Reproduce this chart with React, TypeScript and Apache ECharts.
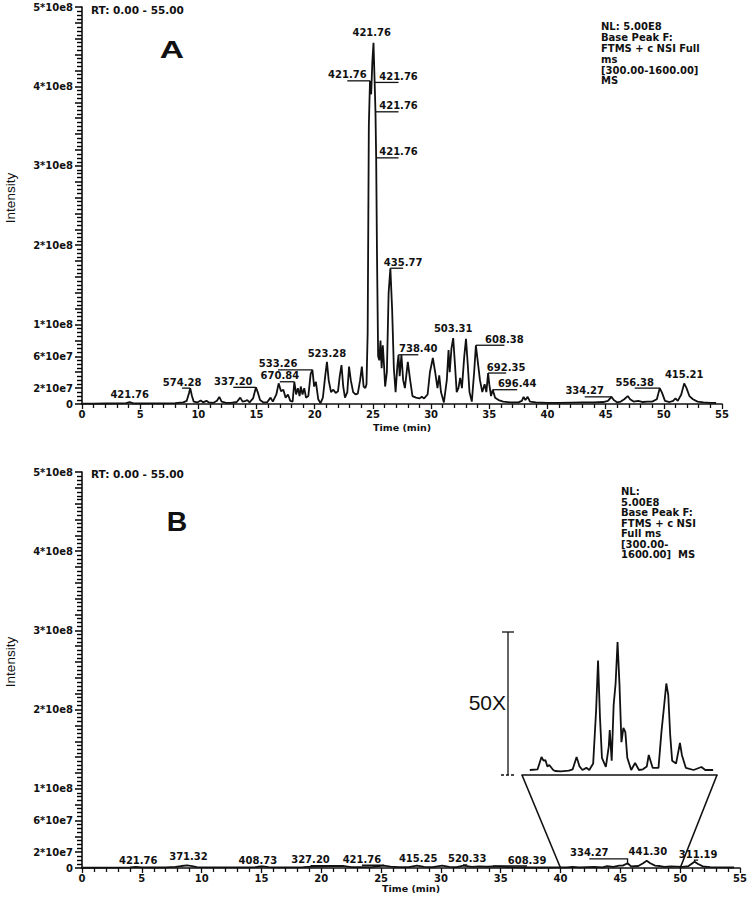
import React, { useEffect, useRef } from "react";
import * as echarts from "echarts";

// ---------- axis ticks ----------
const timeMin = 0;
const timeMax = 55;
const timeInterval = 5;
const intensityMax = 5e8;
const yTickValues = [0, 2e7, 6e7, 1e8, 2e8, 3e8, 4e8, 5e8];
const yTickLabels = ["0", "2*10e7", "6*10e7", "1*10e8", "2*10e8", "3*10e8", "4*10e8", "5*10e8"];

// ---------- chromatogram A: [time (min), intensity (x1e6)] ----------
const chromA: [number, number][] = [
  [0, 0.5], [1, 0.5], [2, 0.6], [3, 0.7], [3.8, 1.0], [4.1, 2.5], [4.4, 0.8], [5, 0.6], [6, 0.8], [7, 0.9],
  [8, 1.2], [8.7, 2], [9.0, 4], [9.2, 14], [9.3, 20], [9.45, 10], [9.6, 3], [9.9, 2], [10.2, 4.5], [10.4, 2],
  [10.7, 4], [10.9, 2], [11.3, 1.5], [11.6, 4], [11.8, 9], [12.0, 3], [12.4, 1.5], [12.8, 1.5], [13.3, 2.5],
  [13.6, 8], [13.8, 3], [14.0, 3.5], [14.2, 5], [14.4, 2], [14.7, 7], [14.95, 21], [15.1, 15], [15.3, 5],
  [15.6, 2], [15.9, 2], [16.2, 8], [16.4, 3], [16.7, 12], [16.9, 26], [17.1, 16], [17.3, 18], [17.5, 8],
  [17.7, 12], [17.9, 4], [18.1, 3], [18.25, 28], [18.4, 12], [18.55, 20], [18.7, 10], [18.8, 22], [18.95, 12],
  [19.1, 20], [19.25, 8], [19.45, 10], [19.65, 38], [19.8, 43], [19.95, 22], [20.1, 28], [20.3, 6], [20.5, 1],
  [20.7, 8], [20.9, 35], [21.05, 53], [21.2, 30], [21.4, 15], [21.6, 18], [21.8, 14], [22.0, 16], [22.15, 35],
  [22.3, 49], [22.45, 22], [22.6, 8], [22.8, 15], [22.95, 47], [23.1, 30], [23.3, 15], [23.5, 12], [23.7, 13],
  [23.9, 30], [24.05, 47], [24.2, 22], [24.35, 20], [24.45, 25], [24.55, 90], [24.65, 350], [24.75, 407],
  [24.85, 390], [24.95, 430], [25.05, 455], [25.15, 405], [25.22, 368], [25.28, 310], [25.35, 190], [25.45, 60],
  [25.55, 55], [25.65, 80], [25.75, 45], [25.85, 74], [25.95, 50], [26.05, 22], [26.2, 40], [26.35, 140],
  [26.5, 171], [26.65, 120], [26.8, 45], [26.95, 15], [27.1, 48], [27.2, 62], [27.3, 35], [27.45, 62],
  [27.6, 30], [27.75, 20], [28.0, 53], [28.2, 30], [28.4, 10], [28.7, 8], [29.0, 7], [29.2, 9], [29.4, 7],
  [29.7, 12], [29.9, 40], [30.15, 58], [30.35, 40], [30.55, 20], [30.7, 36], [30.85, 15], [31.1, 2],
  [31.35, 30], [31.5, 68], [31.6, 40], [31.75, 70], [31.9, 83], [32.05, 50], [32.2, 15], [32.35, 20],
  [32.5, 33], [32.65, 20], [32.85, 60], [33.0, 82], [33.15, 50], [33.3, 15], [33.5, 3], [33.7, 40],
  [33.85, 74], [34.0, 55], [34.2, 30], [34.4, 15], [34.6, 25], [34.75, 15], [34.9, 39], [35.0, 25],
  [35.15, 10], [35.3, 18], [35.5, 8], [35.8, 5], [36.2, 3], [36.8, 2], [37.5, 2], [37.8, 4], [37.95, 9],
  [38.1, 5], [38.3, 9], [38.5, 3], [39, 2], [40, 1.5], [41, 1.5], [42, 1.8], [43, 2], [44, 2], [44.8, 2.5],
  [45.2, 4], [45.5, 9], [45.7, 5], [46.0, 2], [46.3, 3], [46.6, 6], [46.9, 10], [47.1, 6], [47.4, 3],
  [47.8, 4], [48.2, 2.5], [48.6, 3], [49.0, 3], [49.4, 6], [49.65, 20], [49.85, 14], [50.1, 4], [50.5, 2.5],
  [50.8, 4], [51.0, 7], [51.2, 4], [51.5, 12], [51.75, 26], [51.95, 20], [52.2, 10], [52.5, 6], [52.9, 3],
  [53.4, 2], [54, 1.5], [54.5, 1.5],
];

// ---------- chromatogram B: [time (min), intensity (x1e6)] ----------
const chromB: [number, number][] = [
  [0, 0.3], [1, 0.3], [2, 0.4], [3, 0.5], [4, 0.8], [4.5, 1.5], [5, 0.8], [6, 0.6], [7, 0.8], [7.8, 1.5],
  [8.3, 2.5], [8.8, 3.2], [9.2, 2.5], [9.6, 1], [10.5, 0.8], [11.5, 0.8], [12.5, 0.7], [13.5, 0.9], [14.5, 1.2],
  [15.1, 2], [15.6, 1], [16.5, 0.8], [17.5, 0.9], [18.5, 1.2], [19.3, 1.8], [20.2, 2.2], [21.0, 2.5],
  [21.8, 2.8], [22.5, 1.2], [23.5, 1], [24.3, 1.4], [25.2, 3], [25.8, 1.8], [26.5, 1], [27.3, 1.2], [28.0, 3],
  [28.6, 1.3], [29.3, 1.2], [30.1, 3], [30.7, 1.3], [31.3, 1.2], [31.9, 3], [32.6, 1.4], [33.2, 2], [33.8, 1.6],
  [34.4, 2], [35.0, 1.8], [35.6, 1.2], [36.5, 0.8], [37.5, 0.6], [38.5, 0.6], [39.5, 0.7], [40.5, 0.8],
  [41.0, 1.4], [41.6, 0.8], [42.8, 1.3], [43.5, 0.8], [43.9, 2.5], [44.4, 1.5], [44.9, 3], [45.2, 3], [45.6, 6],
  [45.9, 2], [46.5, 2.5], [46.9, 6], [47.2, 9], [47.5, 6], [47.9, 3], [48.3, 2.5], [48.7, 1.5], [49.2, 2],
  [49.7, 1.8], [50.2, 1.5], [50.7, 2.5], [51.2, 8], [51.5, 5], [51.9, 2], [52.5, 1], [53.5, 0.7], [54.5, 0.6],
];

// ---------- 50X inset of B (40-50 min): [time, % of scale bar] ----------
const insetRange = [40, 50];
const insetScaleMax = 100;
const chromInset: [number, number][] = [
  [40.4, 3.5], [40.8, 4], [41.0, 12.6], [41.1, 10], [41.2, 10.5], [41.3, 6], [41.4, 7], [41.6, 3.5], [41.7, 2.8],
  [42.0, 2.5], [42.4, 3], [42.6, 4], [42.8, 12.6], [42.95, 6], [43.1, 3.5], [43.3, 5], [43.45, 3.5], [43.65, 8],
  [43.8, 45], [43.9, 80], [44.0, 40], [44.1, 12], [44.3, 5.6], [44.45, 20], [44.5, 31.5], [44.6, 10], [44.7, 49],
  [44.8, 64], [44.9, 93], [45.0, 63], [45.1, 23], [45.2, 33], [45.3, 30], [45.4, 12], [45.6, 3.5], [45.8, 8.4],
  [46.0, 3.5], [46.2, 4], [46.4, 6], [46.5, 14], [46.7, 5], [47.0, 5], [47.15, 30], [47.3, 50], [47.4, 64],
  [47.5, 56], [47.6, 28], [47.7, 10], [47.9, 8], [48.1, 22.4], [48.2, 14], [48.4, 5], [48.8, 3.5], [49.2, 5.6],
  [49.4, 3.5], [49.8, 3.5],
];

// ---------- peak labels: [m/z text, peak time, peak intensity (x1e6)] ----------
const peakLabelsA: [string, number, number][] = [
  ["421.76", 25.05, 455], ["421.76", 24.75, 407], ["421.76", 25.15, 405], ["421.76", 25.22, 368],
  ["421.76", 25.28, 310], ["435.77", 26.5, 171], ["523.28", 21.05, 53], ["533.26", 19.8, 43],
  ["670.84", 18.25, 28], ["337.20", 14.95, 21], ["574.28", 9.3, 20], ["421.76", 4.1, 2.5],
  ["738.40", 27.2, 62], ["503.31", 31.9, 83], ["608.38", 33.85, 74], ["692.35", 34.9, 39],
  ["696.44", 35.3, 18], ["334.27", 45.5, 9], ["556.38", 49.65, 20], ["415.21", 51.75, 26],
];
// label anchor: [time, intensity (x1e6)]
const labelPosA: [number, number][] = [
  [24.9, 460], [22.8, 407], [27.2, 405], [27.2, 368], [27.2, 310], [27.6, 171], [21.05, 56], [16.85, 43],
  [17.0, 28], [13.0, 21], [8.6, 20], [4.1, 5], [28.9, 62], [31.9, 87], [36.3, 74], [36.45, 39],
  [37.4, 18], [43.2, 9], [47.5, 20], [51.75, 29],
];

const peakLabelsB: [string, number, number][] = [
  ["421.76", 4.5, 1.5], ["371.32", 8.8, 3.2], ["408.73", 15.1, 2], ["327.20", 21.8, 2.8], ["421.76", 25.2, 3],
  ["415.25", 28.0, 3], ["520.33", 31.9, 3], ["608.39", 34.4, 2], ["334.27", 45.6, 6], ["441.30", 47.2, 9],
  ["311.19", 51.2, 8],
];
const labelPosB: [number, number][] = [
  [4.7, 2.5], [8.9, 7.5], [14.7, 2], [19.1, 3], [23.4, 3.5], [28.1, 4], [32.2, 4], [37.2, 2.5],
  [42.4, 11.4], [47.3, 13], [51.5, 10],
];

const FONT = "DejaVu Sans";
const INK = "#111";

function labelSeries(labels: [string, number, number][], places: [number, number][], idx: number) {
  return {
    type: "custom",
    xAxisIndex: idx,
    yAxisIndex: idx,
    clip: false,
    silent: true,
    encode: { x: [0, 2], y: [1, 3] },
    data: labels.map(([, pt, pv], i) => [pt, pv * 1e6, places[i][0], places[i][1] * 1e6]),
    renderItem: (params: any, api: any) => {
      const p = api.coord([api.value(0), api.value(1)]);
      const l = api.coord([api.value(2), api.value(3)]);
      const text = labels[params.dataIndex][0];
      const children: any[] = [];
      if (Math.abs(l[0] - p[0]) > 3) {
        children.push({
          type: "polyline",
          shape: { points: [[p[0], p[1]], [p[0], l[1]], [l[0], l[1]]] },
          style: { stroke: INK, lineWidth: 1.3, fill: null },
        });
      }
      children.push({
        type: "text",
        x: l[0],
        y: l[1] - 1,
        style: {
          text,
          fill: INK,
          fontSize: 10,
          fontWeight: "bold",
          fontFamily: FONT,
          align: "center",
          verticalAlign: "bottom",
        },
      });
      return { type: "group", children };
    },
  };
}

function timeAxis(gridIndex: number, nameGap: number) {
  return {
    type: "value",
    gridIndex,
    min: timeMin,
    max: timeMax,
    interval: timeInterval,
    name: "Time (min)",
    nameLocation: "middle",
    nameGap,
    nameTextStyle: { color: INK, fontSize: 9.5, fontWeight: "bold", fontFamily: FONT },
    axisLine: { show: true, onZero: false, lineStyle: { color: INK, width: 1.6 } },
    axisTick: { show: true, length: 5, lineStyle: { color: INK, width: 1.3 } },
    minorTick: { show: true, splitNumber: 5, length: 4, lineStyle: { color: INK, width: 1.3 } },
    axisLabel: { color: INK, fontSize: 10, fontWeight: "bold", fontFamily: FONT, margin: 5 },
    splitLine: { show: false },
    minorSplitLine: { show: false },
  };
}

function intensityAxis(gridIndex: number) {
  return {
    type: "value",
    gridIndex,
    min: 0,
    max: intensityMax,
    interval: 2e7,
    axisLine: { show: true, onZero: false, lineStyle: { color: INK, width: 1.6 } },
    axisTick: { show: true, length: 7, lineStyle: { color: "#000", width: 1.5 } },
    minorTick: { show: true, splitNumber: 4, length: 5, lineStyle: { color: "#000", width: 1.4 } },
    axisLabel: {
      color: INK,
      fontSize: 10,
      fontWeight: "bold",
      fontFamily: FONT,
      margin: 9,
      formatter: (v: number) => {
        const i = yTickValues.findIndex((t) => Math.abs(t - v) < 1);
        return i >= 0 ? yTickLabels[i] : "";
      },
    },
    splitLine: { show: false },
    minorSplitLine: { show: false },
  };
}

function traceSeries(data: [number, number][], idx: number, scale: number) {
  return {
    type: "line",
    xAxisIndex: idx,
    yAxisIndex: idx,
    data: data.map(([t, v]) => [t, v * scale]),
    symbol: "none",
    lineStyle: { color: INK, width: 1.8 },
    silent: true,
  };
}

const infoA = "NL: 5.00E8\nBase Peak F:\nFTMS + c NSI Full\nms\n[300.00-1600.00]\nMS";
const infoB = "NL:\n5.00E8\nBase Peak F:\nFTMS + c NSI\nFull ms\n[300.00-\n1600.00]  MS";

export default function App() {
  const ref = useRef<HTMLDivElement>(null);

  useEffect(() => {
    document.body.style.margin = "0";
    if (!ref.current) return;
    const chart = echarts.init(ref.current, null, { renderer: "svg" });
    const option: any = {
      animation: false,
      backgroundColor: "#fff",
      textStyle: { fontFamily: FONT },
      grid: [
        { left: 82, top: 7, width: 640, height: 397 },
        { left: 82, top: 472, width: 658, height: 396 },
        { left: 522, top: 632, width: 195, height: 143 },
      ],
      xAxis: [
        timeAxis(0, 18),
        timeAxis(1, 15),
        {
          type: "value",
          gridIndex: 2,
          min: insetRange[0],
          max: insetRange[1],
          axisLine: { show: true, onZero: false, lineStyle: { color: INK, width: 1.6 } },
          axisTick: { show: false },
          axisLabel: { show: false },
          splitLine: { show: false },
        },
      ],
      yAxis: [
        intensityAxis(0),
        intensityAxis(1),
        { type: "value", gridIndex: 2, min: 0, max: insetScaleMax, show: false, splitLine: { show: false } },
      ],
      series: [
        traceSeries(chromA, 0, 1e6),
        traceSeries(chromB, 1, 1e6),
        traceSeries(chromInset, 2, 1),
        labelSeries(peakLabelsA, labelPosA, 0),
        labelSeries(peakLabelsB, labelPosB, 1),
      ],
    };
    chart.setOption(option);

    const insetBL = chart.convertToPixel({ gridIndex: 2 } as any, [insetRange[0], 0]) as number[];
    const insetBR = chart.convertToPixel({ gridIndex: 2 } as any, [insetRange[1], 0]) as number[];
    const insetTop = chart.convertToPixel({ gridIndex: 2 } as any, [insetRange[0], insetScaleMax]) as number[];
    const mainL = chart.convertToPixel({ gridIndex: 1 } as any, [insetRange[0], 0]) as number[];
    const mainR = chart.convertToPixel({ gridIndex: 1 } as any, [insetRange[1], 0]) as number[];
    const barX = insetBL[0] - 14;

    const smallText = { fill: INK, fontSize: 10, fontWeight: "bold", fontFamily: FONT };
    chart.setOption({
      graphic: [
        { type: "text", x: 91, y: 10, style: { ...smallText, fontSize: 10.5, text: "RT: 0.00 - 55.00", verticalAlign: "middle" } },
        { type: "text", x: 91, y: 474, style: { ...smallText, fontSize: 10.5, text: "RT: 0.00 - 55.00", verticalAlign: "middle" } },
        { type: "text", x: 172, y: 50, scaleX: 1.4, style: { text: "A", fill: INK, fontSize: 24, fontWeight: "bold", fontFamily: "Liberation Sans", align: "center", verticalAlign: "middle" } },
        { type: "text", x: 177, y: 522, scaleX: 1.05, style: { text: "B", fill: INK, fontSize: 27, fontWeight: "bold", fontFamily: "Liberation Sans", align: "center", verticalAlign: "middle" } },
        { type: "text", x: 601, y: 21.5, style: { ...smallText, text: infoA, lineHeight: 10.8, verticalAlign: "top" } },
        { type: "text", x: 621, y: 486.5, style: { ...smallText, text: infoB, lineHeight: 10.5, verticalAlign: "top" } },
        { type: "text", x: 10, y: 198, rotation: Math.PI / 2, style: { text: "Intensity", fill: INK, fontSize: 13.5, fontFamily: "Liberation Sans", align: "center", verticalAlign: "middle" } },
        { type: "text", x: 10, y: 662, rotation: Math.PI / 2, style: { text: "Intensity", fill: INK, fontSize: 13.5, fontFamily: "Liberation Sans", align: "center", verticalAlign: "middle" } },
        { type: "line", shape: { x1: insetBL[0], y1: insetBL[1], x2: mainL[0], y2: mainL[1] }, style: { stroke: INK, lineWidth: 1.6 } },
        { type: "line", shape: { x1: insetBR[0], y1: insetBR[1], x2: mainR[0], y2: mainR[1] }, style: { stroke: INK, lineWidth: 1.6 } },
        { type: "line", shape: { x1: barX, y1: insetTop[1], x2: barX, y2: insetBL[1] }, style: { stroke: INK, lineWidth: 1.3 } },
        { type: "line", shape: { x1: barX - 6, y1: insetTop[1], x2: barX + 6, y2: insetTop[1] }, style: { stroke: INK, lineWidth: 1.3 } },
        { type: "line", shape: { x1: barX - 7, y1: insetBL[1], x2: barX + 8, y2: insetBL[1] }, style: { stroke: INK, lineWidth: 1.3, lineDash: [3, 2] } },
        { type: "text", x: barX - 2, y: (insetTop[1] + insetBL[1]) / 2 - 1, style: { text: "50X", fill: INK, fontSize: 21, fontFamily: "Liberation Sans", align: "right", verticalAlign: "middle" } },
      ],
    });

    return () => chart.dispose();
  }, []);

  return <div ref={ref} style={{ width: 750, height: 898 }} />;
}
